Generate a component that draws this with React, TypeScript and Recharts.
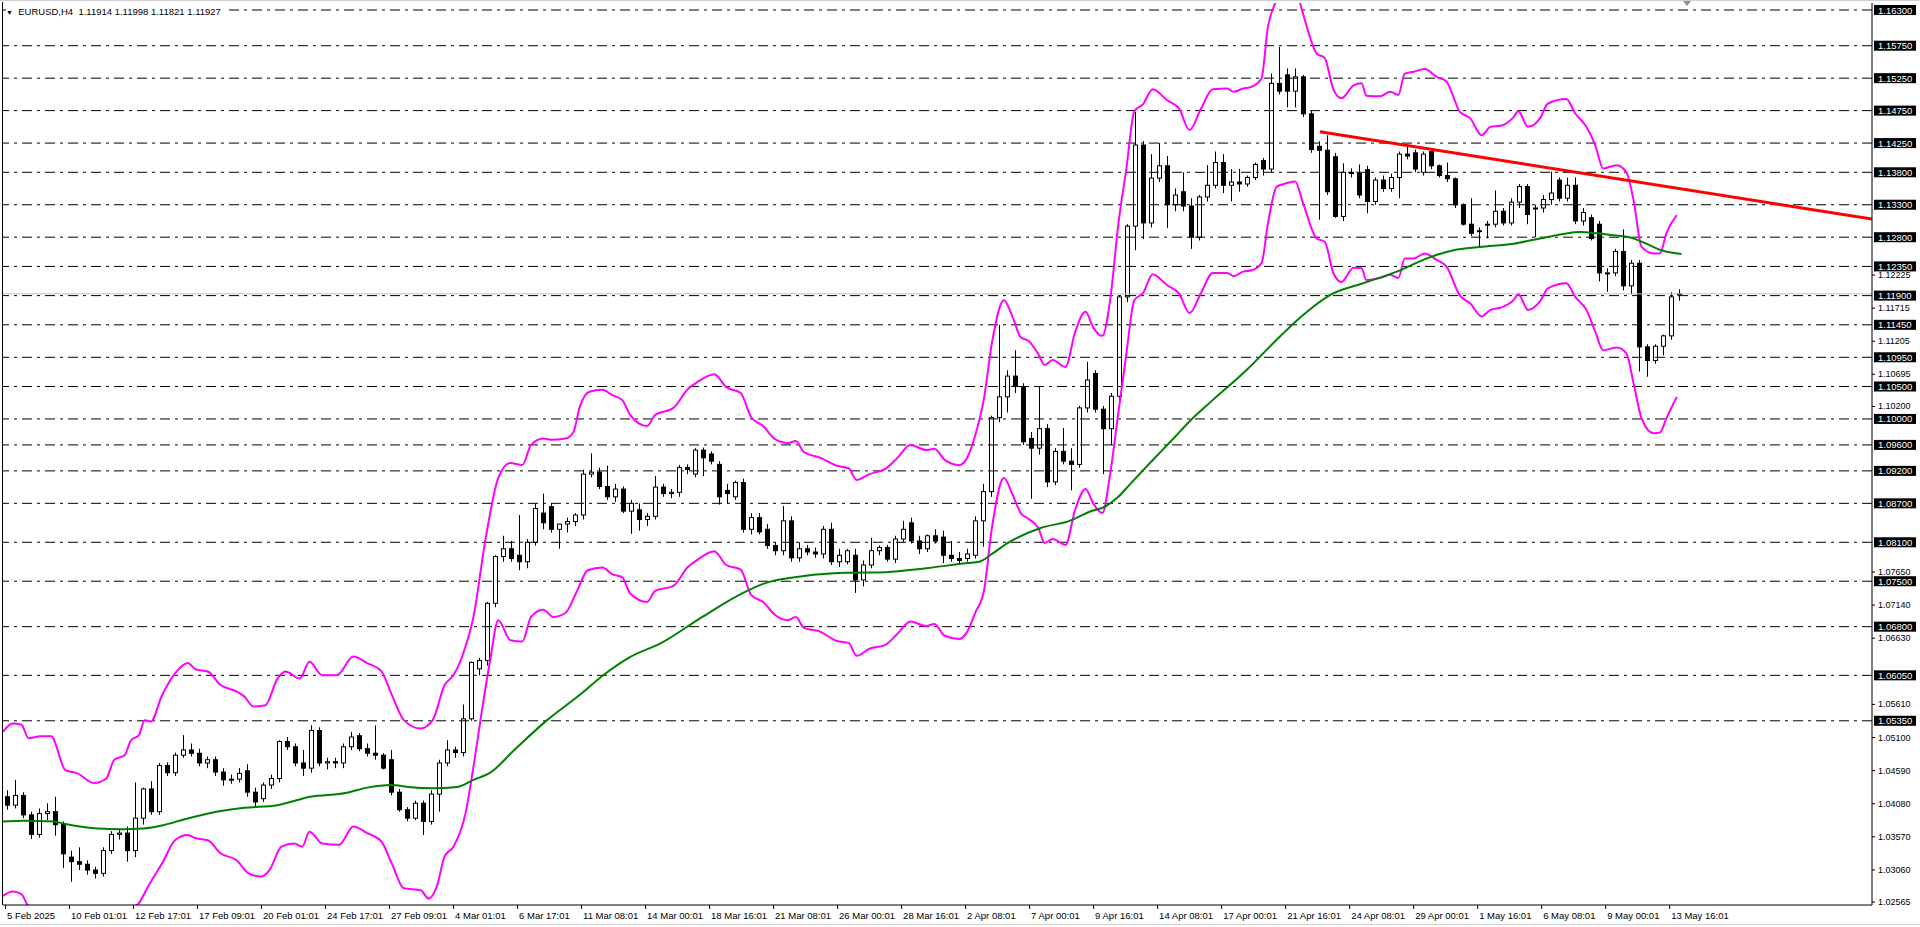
import { ComposedChart, XAxis, YAxis, Bar, Line, ReferenceLine } from 'recharts'

// one candle = two H4 bars (8 hours): open, high, low, close
type Candle = [number, number, number, number]

const febCandles: Candle[] = [
  [1.0418, 1.0428, 1.0398, 1.0405], [1.0405, 1.0444, 1.04, 1.042], [1.042, 1.0425, 1.0385, 1.039],
  [1.039, 1.0395, 1.0353, 1.036], [1.036, 1.04, 1.0355, 1.0392], [1.0392, 1.0408, 1.0382, 1.0395],
  [1.0395, 1.0418, 1.0358, 1.0375], [1.0375, 1.038, 1.0308, 1.033], [1.0325, 1.0335, 1.0287, 1.0318],
  [1.0318, 1.034, 1.0305, 1.0314], [1.0314, 1.032, 1.0298, 1.0305], [1.0305, 1.031, 1.0292, 1.03],
  [1.03, 1.034, 1.0295, 1.0335], [1.0335, 1.0365, 1.033, 1.036], [1.036, 1.0368, 1.0352, 1.0362],
  [1.0362, 1.0372, 1.0318, 1.0335], [1.0335, 1.044, 1.0325, 1.0385], [1.0385, 1.0432, 1.0375, 1.043],
  [1.043, 1.0442, 1.039, 1.0395], [1.0395, 1.047, 1.039, 1.0466], [1.0466, 1.0471, 1.045, 1.0455],
  [1.0455, 1.0486, 1.045, 1.0482], [1.0482, 1.0513, 1.0478, 1.049], [1.049, 1.05, 1.048, 1.0485],
  [1.0485, 1.0492, 1.0465, 1.047], [1.047, 1.048, 1.0462, 1.0475], [1.0475, 1.048, 1.045, 1.0456],
  [1.0456, 1.0462, 1.0435, 1.0444], [1.0444, 1.0452, 1.0438, 1.0445], [1.0445, 1.0462, 1.044, 1.0454],
  [1.0458, 1.0468, 1.0418, 1.0425], [1.0425, 1.0432, 1.0403, 1.041], [1.0415, 1.044, 1.041, 1.0436],
  [1.0436, 1.0452, 1.043, 1.0446], [1.0446, 1.0505, 1.044, 1.0503], [1.0503, 1.051, 1.049, 1.0495],
  [1.0495, 1.05, 1.0465, 1.047], [1.047, 1.049, 1.045, 1.0462], [1.0462, 1.0528, 1.0455, 1.052],
  [1.052, 1.0525, 1.0465, 1.047], [1.047, 1.0478, 1.046, 1.0472], [1.0472, 1.0478, 1.0462, 1.047],
  [1.047, 1.05, 1.0462, 1.0495], [1.0495, 1.0518, 1.049, 1.051], [1.0512, 1.0516, 1.0488, 1.0492],
  [1.0492, 1.05, 1.048, 1.0485], [1.0485, 1.0528, 1.0475, 1.0482], [1.0482, 1.0485, 1.046, 1.0462],
  [1.0475, 1.049, 1.042, 1.0425], [1.0425, 1.043, 1.0395, 1.0398], [1.0398, 1.0402, 1.038, 1.0385],
  [1.0385, 1.0412, 1.0382, 1.0408], [1.0408, 1.0412, 1.0359, 1.038], [1.038, 1.0428, 1.0375, 1.0422],
  [1.0422, 1.0475, 1.0395, 1.047], [1.047, 1.0505, 1.0465, 1.049],
]

const marCandles: Candle[] = [
  [1.049, 1.0495, 1.0478, 1.0486], [1.0486, 1.056, 1.048, 1.0538], [1.0538, 1.0626, 1.0535, 1.0625],
  [1.0615, 1.0632, 1.0605, 1.0628], [1.0628, 1.0718, 1.062, 1.0716], [1.0716, 1.079, 1.071, 1.0788],
  [1.0788, 1.082, 1.078, 1.08], [1.08, 1.0812, 1.078, 1.0785], [1.079, 1.0852, 1.0767, 1.078],
  [1.078, 1.0815, 1.077, 1.081], [1.081, 1.087, 1.0805, 1.0862], [1.0855, 1.0885, 1.083, 1.084],
  [1.0865, 1.087, 1.0825, 1.083], [1.083, 1.0838, 1.08, 1.0838], [1.0838, 1.0848, 1.0825, 1.0842],
  [1.0842, 1.0855, 1.0835, 1.0852], [1.0852, 1.0922, 1.0845, 1.0915], [1.0915, 1.0947, 1.091, 1.0918],
  [1.0918, 1.0925, 1.0892, 1.0896], [1.0896, 1.0928, 1.0875, 1.088], [1.088, 1.09, 1.0872, 1.0892],
  [1.0892, 1.0896, 1.0855, 1.0858], [1.0858, 1.0875, 1.0823, 1.087], [1.086, 1.087, 1.0828, 1.0845],
  [1.0845, 1.0855, 1.0835, 1.085], [1.085, 1.0912, 1.0845, 1.0895], [1.0895, 1.09, 1.088, 1.0885],
  [1.0885, 1.0892, 1.0878, 1.0887], [1.0887, 1.0929, 1.088, 1.0925], [1.0925, 1.093, 1.0915, 1.0922],
  [1.0915, 1.0955, 1.091, 1.0952], [1.0952, 1.0956, 1.0912, 1.094], [1.0946, 1.095, 1.093, 1.0935],
  [1.093, 1.0935, 1.0868, 1.088], [1.089, 1.09, 1.087, 1.0885], [1.088, 1.0905, 1.0875, 1.0902],
  [1.0902, 1.0908, 1.0825, 1.083], [1.083, 1.0855, 1.0822, 1.0848], [1.0848, 1.0855, 1.0822, 1.0826],
  [1.083, 1.0838, 1.08, 1.0805], [1.0805, 1.081, 1.079, 1.0797], [1.0797, 1.0866, 1.079, 1.0843],
  [1.0843, 1.085, 1.078, 1.0786], [1.0786, 1.081, 1.078, 1.08], [1.08, 1.0806, 1.079, 1.0795],
  [1.0795, 1.0802, 1.0786, 1.0792], [1.0792, 1.0835, 1.0785, 1.083], [1.083, 1.084, 1.0775, 1.078],
  [1.078, 1.08, 1.0772, 1.079], [1.078, 1.08, 1.0776, 1.0797], [1.079, 1.08, 1.0732, 1.0752],
  [1.0752, 1.0782, 1.0742, 1.0775], [1.0775, 1.0817, 1.077, 1.0797], [1.0797, 1.0805, 1.079, 1.0802],
  [1.0802, 1.0806, 1.078, 1.0784], [1.0784, 1.082, 1.0778, 1.0815], [1.0815, 1.0843, 1.081, 1.083],
  [1.084, 1.0848, 1.0808, 1.0812], [1.0812, 1.082, 1.0792, 1.08], [1.08, 1.0822, 1.0795, 1.082],
]

const aprCandles: Candle[] = [
  [1.082, 1.083, 1.0808, 1.0812], [1.0818, 1.0828, 1.0778, 1.079], [1.079, 1.0812, 1.078, 1.0785],
  [1.0785, 1.0795, 1.0778, 1.0782], [1.0785, 1.08, 1.078, 1.0792], [1.079, 1.085, 1.0785, 1.0843],
  [1.0843, 1.09, 1.0803, 1.0888], [1.0888, 1.1005, 1.088, 1.1002], [1.1002, 1.1145, 1.0995, 1.1034],
  [1.1034, 1.1075, 1.101, 1.1066], [1.1066, 1.1106, 1.104, 1.105], [1.105, 1.1055, 1.096, 1.0965],
  [1.097, 1.098, 1.0877, 1.0955], [1.0955, 1.105, 1.0945, 1.0985], [1.0985, 1.0992, 1.0895, 1.0903],
  [1.0903, 1.0955, 1.0898, 1.095], [1.095, 1.0986, 1.093, 1.0935], [1.0935, 1.0955, 1.089, 1.093],
  [1.093, 1.102, 1.0925, 1.1017], [1.1017, 1.1088, 1.101, 1.106], [1.107, 1.1075, 1.101, 1.1015],
  [1.1015, 1.102, 1.0915, 1.0985], [1.0985, 1.104, 1.096, 1.1035], [1.1035, 1.119, 1.103, 1.1188],
  [1.1188, 1.13, 1.118, 1.1297], [1.1297, 1.1473, 1.126, 1.1422], [1.1422, 1.1428, 1.1277, 1.1302],
  [1.1302, 1.1408, 1.1295, 1.1371], [1.1371, 1.1425, 1.1365, 1.139], [1.139, 1.1405, 1.1294, 1.133],
  [1.133, 1.1355, 1.132, 1.1345], [1.135, 1.138, 1.132, 1.1328], [1.1328, 1.134, 1.1262, 1.128],
  [1.128, 1.1345, 1.1275, 1.1342], [1.1342, 1.1391, 1.1335, 1.136], [1.136, 1.1412, 1.1355, 1.1395],
  [1.1395, 1.1408, 1.1348, 1.136], [1.136, 1.1385, 1.1335, 1.1365], [1.1365, 1.1385, 1.135, 1.1362],
  [1.1362, 1.1375, 1.1358, 1.1372], [1.1372, 1.1395, 1.1368, 1.1392], [1.1398, 1.1402, 1.1375, 1.1385],
  [1.1385, 1.1532, 1.138, 1.1517], [1.1517, 1.1573, 1.15, 1.1505], [1.153, 1.154, 1.148, 1.1505],
  [1.1505, 1.154, 1.148, 1.1527], [1.1527, 1.153, 1.1465, 1.147], [1.147, 1.1475, 1.141, 1.1415],
  [1.142, 1.1428, 1.1307, 1.1414], [1.1414, 1.1437, 1.1345, 1.135], [1.1404, 1.141, 1.131, 1.1312],
  [1.1312, 1.1394, 1.1305, 1.138], [1.138, 1.1386, 1.1372, 1.1378], [1.1378, 1.1392, 1.134, 1.1345],
  [1.1384, 1.139, 1.1317, 1.1335], [1.1335, 1.1372, 1.133, 1.1368], [1.1368, 1.1375, 1.135, 1.1355],
  [1.1355, 1.1378, 1.135, 1.1372], [1.1372, 1.1412, 1.134, 1.1408], [1.1408, 1.142, 1.14, 1.1405],
  [1.141, 1.1415, 1.138, 1.1385], [1.138, 1.1412, 1.1375, 1.1408], [1.1412, 1.1415, 1.1385, 1.139],
  [1.139, 1.1392, 1.1372, 1.1375], [1.1375, 1.1395, 1.1365, 1.137], [1.137, 1.1372, 1.1325, 1.133],
]

const mayCandles: Candle[] = [
  [1.133, 1.1332, 1.1298, 1.13], [1.13, 1.134, 1.1282, 1.1286], [1.129, 1.1295, 1.1265, 1.129],
  [1.13, 1.1305, 1.1278, 1.13], [1.13, 1.1352, 1.1295, 1.132], [1.132, 1.1325, 1.1298, 1.1302],
  [1.1302, 1.134, 1.1298, 1.1334], [1.1334, 1.1362, 1.1325, 1.1358], [1.1358, 1.1362, 1.13, 1.1315],
  [1.1325, 1.133, 1.128, 1.1325], [1.1325, 1.1345, 1.1318, 1.1338], [1.1338, 1.1381, 1.133, 1.1348],
  [1.1368, 1.1372, 1.1335, 1.134], [1.134, 1.1372, 1.1335, 1.136], [1.136, 1.1372, 1.13, 1.1305],
  [1.1305, 1.1325, 1.1298, 1.1318], [1.131, 1.1315, 1.1275, 1.1278], [1.13, 1.1305, 1.1212, 1.1225],
  [1.1225, 1.1232, 1.1196, 1.1225], [1.1225, 1.1262, 1.122, 1.1258], [1.1258, 1.1292, 1.1198, 1.1205],
  [1.1205, 1.1245, 1.1192, 1.124], [1.124, 1.1245, 1.1073, 1.1111], [1.1111, 1.1115, 1.1065, 1.109],
  [1.109, 1.1115, 1.1085, 1.1112], [1.1112, 1.113, 1.1098, 1.1128], [1.1128, 1.1195, 1.1122, 1.1188],
  [1.11914, 1.11998, 1.11821, 1.11927],
]

// [candle index, price]
const maLine: [number, number][] = [
  [-0.5, 1.038], [2.2, 1.0381], [5.8, 1.038], [7.3, 1.0376], [11.4, 1.0369], [14.4, 1.0368], [17, 1.0369],
  [19.5, 1.0374], [22.1, 1.0383], [26.2, 1.0395], [29.7, 1.0401], [33.8, 1.0405], [37.9, 1.0418],
  [42.5, 1.0424], [45, 1.0432], [48.1, 1.0436], [50.1, 1.0433], [53.2, 1.0431], [56.3, 1.0433],
  [58.3, 1.0444], [60.4, 1.0455], [63.4, 1.049], [67.5, 1.0536], [71.6, 1.0575], [74.6, 1.0606],
  [77.7, 1.0632], [81.8, 1.0655], [86.9, 1.0695], [92, 1.0732], [94.5, 1.0746], [99.6, 1.0758],
  [104.7, 1.0763], [109.8, 1.0764], [114.9, 1.077], [120, 1.0778], [121.5, 1.078], [123.1, 1.0792],
  [125.1, 1.0809], [129.2, 1.0832], [132.8, 1.0843], [135.3, 1.0857], [137.4, 1.0866], [138.9, 1.088],
  [140.4, 1.09], [143, 1.0934], [145.5, 1.0966], [148.1, 1.1], [150.7, 1.1029], [154.9, 1.1075],
  [159.1, 1.1127], [162, 1.116], [165.4, 1.1191], [169.5, 1.1209], [173.7, 1.1227], [177.8, 1.1249],
  [180.8, 1.126], [184.1, 1.1265], [188.3, 1.127], [191.6, 1.1278], [194.5, 1.1285], [196.6, 1.1288],
  [198.7, 1.1286], [200.8, 1.1283], [202.8, 1.128], [204.9, 1.127], [207, 1.1259], [209.3, 1.1254],
]

const upperBand: [number, number][] = [
  [-0.5, 1.0518], [0.7, 1.0531], [1.8, 1.0529], [2.7, 1.0508], [4.2, 1.0511], [5.5, 1.0511], [7.3, 1.0459],
  [8.8, 1.0454], [10.9, 1.0439], [12.4, 1.0446], [13.4, 1.0475], [14.7, 1.0482], [15.5, 1.0505],
  [16.5, 1.0513], [17.2, 1.0536], [18, 1.0534], [19.3, 1.0572], [21, 1.0608], [22.6, 1.0624],
  [23.6, 1.0614], [25.1, 1.0611], [26.7, 1.059], [28.7, 1.058], [29.7, 1.0572], [30.8, 1.0557],
  [32.3, 1.0559], [33.8, 1.06], [34.8, 1.0611], [36.6, 1.06], [37.8, 1.0626], [39.4, 1.0605],
  [41.2, 1.0605], [43.3, 1.0634], [45, 1.0624], [46.8, 1.0611], [48.1, 1.0575], [49.6, 1.0536],
  [51.7, 1.0523], [53.2, 1.0536], [54.7, 1.059], [55.8, 1.0605], [57.3, 1.0649], [58.3, 1.0695],
  [59.8, 1.0814], [61.4, 1.0909], [62.9, 1.0932], [64.4, 1.0929], [65.5, 1.096], [67, 1.097],
  [68, 1.0968], [69.8, 1.097], [70.8, 1.098], [71.6, 1.1019], [72.8, 1.1042], [74.4, 1.1045],
  [75.6, 1.1037], [76.9, 1.1029], [77.9, 1.1006], [80, 1.0989], [81, 1.1006], [83.3, 1.1017],
  [85.1, 1.1046], [86.3, 1.1057], [88.4, 1.1069], [89.9, 1.1049], [91.7, 1.104], [93, 1.1003],
  [94.5, 1.0989], [96, 1.0969], [97.6, 1.0963], [98.6, 1.0966], [99.6, 1.0949], [101.7, 1.094],
  [103.7, 1.0928], [105.2, 1.0924], [106.2, 1.0906], [107.8, 1.0915], [109.8, 1.0923], [111.3, 1.094],
  [112.9, 1.096], [114.9, 1.0952], [115.9, 1.0954], [117.2, 1.0937], [119, 1.0929], [120, 1.094],
  [121, 1.0974], [122.1, 1.1031], [123.1, 1.1117], [124.6, 1.1183], [125.6, 1.116], [126.7, 1.1126],
  [127.7, 1.112], [128.9, 1.11], [129.7, 1.1083], [130.7, 1.1091], [132.3, 1.108], [133.5, 1.1134],
  [134.8, 1.1165], [135.8, 1.114], [136.9, 1.1128], [137.9, 1.1185], [138.9, 1.13], [139.9, 1.1385],
  [140.9, 1.1474], [142, 1.1485], [143.2, 1.1508], [145, 1.1491], [146.5, 1.1478], [147.8, 1.1445],
  [149.2, 1.1477], [150.7, 1.1508], [152.5, 1.1509], [153.3, 1.1504], [154.5, 1.1509], [155.6, 1.1512],
  [156.8, 1.1525], [157.6, 1.1604], [158.5, 1.164], [159.5, 1.166], [160.5, 1.1665], [161.5, 1.1645],
  [162.2, 1.1615], [163.7, 1.1563], [164.7, 1.1556], [165.8, 1.1507], [166.8, 1.1494], [168.3, 1.1514],
  [169.3, 1.1517], [169.9, 1.1498], [171.6, 1.1497], [172.9, 1.1504], [173.9, 1.1499], [174.7, 1.1532],
  [175.8, 1.1535], [177.2, 1.1539], [178.7, 1.1527], [179.9, 1.152], [181.6, 1.1473], [182.9, 1.1463],
  [184.3, 1.1437], [185.4, 1.145], [186.8, 1.1452], [188.3, 1.1465], [188.9, 1.1474], [190.1, 1.145],
  [191.6, 1.1463], [192.6, 1.1486], [194.9, 1.1493], [196, 1.1471], [197.4, 1.145], [198.5, 1.1422],
  [199.5, 1.1386], [201.2, 1.1391], [202.4, 1.138], [203.3, 1.1337], [204.3, 1.1265], [205.8, 1.1255],
  [206.6, 1.1255], [207.4, 1.1286], [208.7, 1.1314],
]

const lowerBand: [number, number][] = [
  [-0.5, 1.0265], [0.7, 1.0272], [1.8, 1.0268], [2.7, 1.025], [4.2, 1.0248], [5.5, 1.0246], [7.3, 1.0198],
  [8.8, 1.0192], [10.9, 1.0178], [12.4, 1.0185], [13.4, 1.0214], [14.7, 1.0222], [15.5, 1.0243],
  [16.5, 1.0254], [17.6, 1.0279], [19.5, 1.0318], [21, 1.0351], [22.6, 1.0359], [23.6, 1.0354],
  [25.1, 1.0351], [26.7, 1.0331], [28.7, 1.032], [30.2, 1.03], [31.8, 1.0295], [32.8, 1.0305],
  [34.3, 1.0341], [35.9, 1.0346], [36.9, 1.0341], [37.8, 1.0364], [39.4, 1.0346], [41.5, 1.0344],
  [43.3, 1.0372], [45, 1.0362], [46.8, 1.0349], [48.1, 1.0315], [49.6, 1.0277], [51.7, 1.0274],
  [52.7, 1.0261], [53.7, 1.0279], [54.7, 1.0326], [55.8, 1.0341], [57.3, 1.0392], [58.3, 1.0464],
  [59.3, 1.0546], [60.4, 1.0629], [61.4, 1.069], [62.9, 1.0659], [64.4, 1.0657], [65.5, 1.0695],
  [67, 1.0706], [68.3, 1.0695], [69.8, 1.0701], [71.1, 1.0731], [72.6, 1.0767], [74.4, 1.0771],
  [75.6, 1.0761], [76.9, 1.0756], [77.9, 1.0731], [80, 1.0718], [81, 1.0735], [83.3, 1.0743],
  [85.1, 1.0772], [86.3, 1.0783], [88.4, 1.0796], [89.9, 1.0775], [91.7, 1.0768], [93, 1.0729],
  [94.5, 1.0718], [96, 1.0698], [97.6, 1.069], [98.6, 1.0695], [99.6, 1.0678], [101.7, 1.0672],
  [103.7, 1.0658], [105.2, 1.0655], [106.2, 1.0635], [107.8, 1.0646], [109.8, 1.0652], [111.3, 1.0669],
  [112.9, 1.0688], [114.9, 1.0681], [115.9, 1.0684], [117.2, 1.0666], [119, 1.0661], [120, 1.0672],
  [121, 1.0701], [122.1, 1.0735], [123.1, 1.0832], [124.6, 1.0909], [125.6, 1.0886], [126.7, 1.0855],
  [127.7, 1.0846], [128.9, 1.0832], [129.7, 1.0809], [130.7, 1.0815], [132.3, 1.0806], [133.5, 1.086],
  [134.8, 1.0892], [135.8, 1.0869], [136.9, 1.0855], [137.9, 1.0917], [138.9, 1.1009], [139.9, 1.11],
  [140.9, 1.1183], [142, 1.1194], [143.2, 1.1223], [145, 1.1206], [146.5, 1.1193], [147.8, 1.1163],
  [149.2, 1.1193], [150.7, 1.1225], [152.5, 1.1225], [153.3, 1.122], [154.5, 1.1227], [155.6, 1.1229],
  [156.8, 1.124], [157.6, 1.1301], [158.7, 1.1358], [159.9, 1.1363], [161, 1.1366], [162, 1.1332],
  [163.7, 1.1278], [164.7, 1.1273], [165.8, 1.1224], [166.8, 1.1211], [168.3, 1.1233], [169.3, 1.1232],
  [169.9, 1.1214], [171.6, 1.1217], [172.9, 1.1222], [173.9, 1.1217], [174.7, 1.1247], [175.8, 1.1247],
  [177.2, 1.1255], [178.7, 1.1245], [179.9, 1.1235], [181.6, 1.119], [182.9, 1.1178], [184.3, 1.1158],
  [185.4, 1.1168], [186.8, 1.1172], [188.3, 1.1183], [188.9, 1.1192], [190.1, 1.1168], [191.6, 1.1181],
  [192.6, 1.1201], [194.9, 1.1209], [196, 1.1188], [197.4, 1.1168], [198.5, 1.1135], [199.5, 1.1106],
  [201.2, 1.111], [202.4, 1.1101], [203.3, 1.1055], [204.3, 1.1001], [205.8, 1.0978], [206.6, 1.0979],
  [207.4, 1.1001], [208.7, 1.1034],
]

const trendLine: [number, number][] = [[164.1, 1.14425], [233.1, 1.1308]]

const levels = [
  1.163, 1.1575, 1.1525, 1.1475, 1.1425, 1.138, 1.133, 1.128, 1.1235, 1.119, 1.1145,
  1.1095, 1.105, 1.1, 1.096, 1.092, 1.087, 1.081, 1.075, 1.068, 1.0605, 1.0535,
]

// scale labels that are not hidden behind the level boxes
const priceTicks = [
  1.02565, 1.0306, 1.0357, 1.0408, 1.0459, 1.051, 1.0561, 1.0663, 1.0714, 1.0765,
  1.102, 1.10695, 1.11205, 1.11715, 1.12225,
]

const timeLabels = [
  '5 Feb 2025', '10 Feb 01:01', '12 Feb 17:01', '17 Feb 09:01', '20 Feb 01:01', '24 Feb 17:01',
  '27 Feb 09:01', '4 Mar 01:01', '6 Mar 17:01', '11 Mar 08:01', '14 Mar 00:01', '18 Mar 16:01',
  '21 Mar 08:01', '26 Mar 00:01', '28 Mar 16:01', '2 Apr 08:01', '7 Apr 00:01', '9 Apr 16:01',
  '14 Apr 08:01', '17 Apr 00:01', '21 Apr 16:01', '24 Apr 08:01', '29 Apr 00:01', '1 May 16:01',
  '6 May 08:01', '9 May 00:01', '13 May 16:01',
]

const lastPrice = 1.11927
const header = 'EURUSD,H4  1.11914 1.11998 1.11821 1.11927'

const candles = [...febCandles, ...marCandles, ...aprCandles, ...mayCandles].map(([o, h, l, c], k) => ({ k, o, h, l, c }))
const pts = (arr: [number, number][]) => arr.map(([k, v]) => ({ k, v }))
// a time label every 16 H4 bars = 8 candles
const timeTicks = timeLabels.map((_, i) => i * 8 - 0.25)
const FONT = '"Liberation Sans", Arial, sans-serif'

const CandleShape = (props: any) => {
  const { x, y, width, height, payload } = props
  if (x == null || y == null || !payload) return null
  const { o, h, l, c } = payload
  const top = Math.min(y, y + height)
  const bottom = Math.max(y, y + height)
  const span = h - l || 1e-9
  const py = (v: number) => top + ((h - v) / span) * (bottom - top)
  const cx = Math.round(x + width / 2) + 0.5
  const bTop = py(Math.max(o, c))
  const bH = Math.max(py(Math.min(o, c)) - bTop, 1)
  return (
    <g>
      <line x1={cx} x2={cx} y1={top} y2={bottom} stroke='#000' strokeWidth={1} />
      <rect x={cx - 2} y={bTop} width={4} height={bH} fill={c >= o ? '#fff' : '#000'} stroke='#000' strokeWidth={1} />
    </g>
  )
}

const PriceTick = (props: any) => {
  const { x, y, payload } = props
  const v = payload.value as number
  if (levels.includes(v)) {
    return (
      <g>
        <rect x={x + 2} y={y - 5} width={42} height={10} fill='#000' />
        <text x={x + 6} y={y + 3.5} fill='#fff' fontSize={9.5} fontFamily={FONT}>{v.toFixed(5)}</text>
      </g>
    )
  }
  return (
    <g>
      <line x1={x} x2={x + 3} y1={y + 0.5} y2={y + 0.5} stroke='#000' />
      <text x={x + 6} y={y + 3.5} fill='#000' fontSize={9} fontFamily={FONT}>{v.toFixed(5)}</text>
    </g>
  )
}

const TimeTick = (props: any) => {
  const { x, y, payload } = props
  const i = Math.round((payload.value + 0.25) / 8)
  return (
    <g>
      <line x1={x + 0.5} x2={x + 0.5} y1={y} y2={y + 4} stroke='#000' />
      <text x={x + 2} y={y + 14} fill='#000' fontSize={9.5} fontFamily={FONT}>{timeLabels[i]}</text>
    </g>
  )
}

export default function App() {
  return (
    <div style={{ position: 'fixed', left: 0, top: 0, width: 1920, height: 927, background: '#fff', overflow: 'hidden' }}>
      <ComposedChart width={1920} height={927} data={candles} margin={{ top: 3, right: 0, bottom: 0, left: 3 }}>
        <XAxis
          dataKey='k'
          type='number'
          domain={[-0.5, 233.1]}
          allowDataOverflow
          ticks={timeTicks}
          interval={0}
          tick={TimeTick}
          tickLine={false}
          tickSize={0}
          tickMargin={0}
          height={22}
          axisLine={{ stroke: '#000' }}
        />
        <YAxis
          orientation='right'
          type='number'
          domain={[1.02512, 1.16408]}
          allowDataOverflow
          ticks={[...priceTicks, ...levels]}
          interval={0}
          tick={PriceTick}
          tickLine={false}
          tickSize={0}
          tickMargin={0}
          width={48}
          axisLine={{ stroke: '#000' }}
        />
        {levels.map((lv) => (
          <ReferenceLine key={lv} y={lv} stroke='#000' strokeDasharray='10 5 3 5' />
        ))}
        <ReferenceLine y={lastPrice} stroke='#c0c0c0' />
        <Bar dataKey={(d: any) => [d.l, d.h]} barSize={5} shape={CandleShape} isAnimationActive={false} />
        <Line data={pts(upperBand)} dataKey='v' type='monotone' stroke='#ff00ff' strokeWidth={2} dot={false} isAnimationActive={false} />
        <Line data={pts(lowerBand)} dataKey='v' type='monotone' stroke='#ff00ff' strokeWidth={2} dot={false} isAnimationActive={false} />
        <Line data={pts(maLine)} dataKey='v' type='monotone' stroke='#008000' strokeWidth={2} dot={false} isAnimationActive={false} />
        <Line data={pts(trendLine)} dataKey='v' type='linear' stroke='#ff0000' strokeWidth={3} dot={false} isAnimationActive={false} />
      </ComposedChart>
      <div style={{ position: 'absolute', left: 6, top: 6, background: '#fff', font: `9.5px ${FONT}`, whiteSpace: 'pre', paddingRight: 4 }}>
        <span style={{ fontSize: 7 }}>▼</span>{'  ' + header}
      </div>
      <div style={{ position: 'absolute', left: 1683, top: 1, width: 0, height: 0, borderLeft: '4px solid transparent', borderRight: '4px solid transparent', borderTop: '5px solid #909090' }} />
      <div style={{ position: 'absolute', left: 2, top: 2, width: 1, height: 903, background: '#000' }} />
      <div style={{ position: 'absolute', left: 0, top: 0, width: 1920, height: 1, background: '#d0d0d0' }} />
      <div style={{ position: 'absolute', left: 0, top: 924, width: 1920, height: 1, background: '#d0d0d0' }} />
    </div>
  )
}
